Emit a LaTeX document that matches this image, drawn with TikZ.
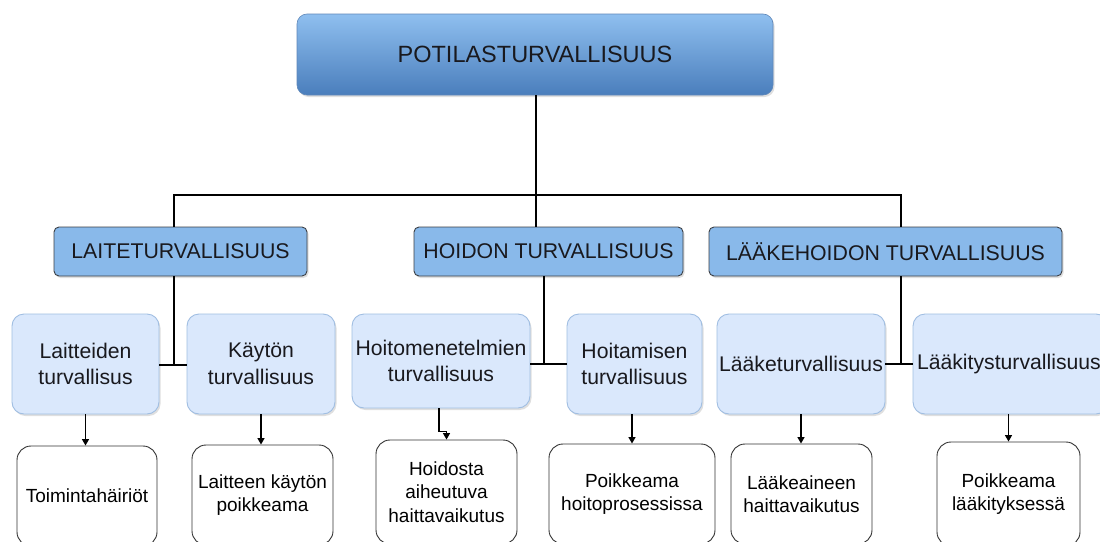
\documentclass[tikz,border=0pt]{standalone}
\usepackage{fontspec}
\setmainfont{Liberation Sans}
\usetikzlibrary{arrows.meta,shadows,calc}
\definecolor{topA}{RGB}{143,191,239}
\definecolor{topB}{RGB}{74,126,188}
\definecolor{topline}{RGB}{95,135,185}
\definecolor{lvtwo}{RGB}{137,185,234}
\definecolor{lvtwoline}{RGB}{60,64,70}
\definecolor{lvthree}{RGB}{218,232,252}
\definecolor{lvthreeline}{RGB}{160,190,226}
\definecolor{txt}{RGB}{25,25,30}
\tikzset{
  shad/.style={drop shadow={opacity=0.25,shadow xshift=1.5pt,shadow yshift=-2pt}},
  topbox/.style={draw=topline,line width=0.6pt,rounded corners=10pt,top color=topA,bottom color=topB,shad,
    minimum width=476pt,minimum height=81pt,inner sep=0pt,font=\fontsize{23.5}{28}\selectfont,text=txt},
  midbox/.style={draw=lvtwoline,line width=0.9pt,rounded corners=5pt,fill=lvtwo,shad,
    minimum height=49pt,inner sep=0pt,font=\fontsize{21.3}{25}\selectfont,text=txt},
  subbox/.style={draw=lvthreeline,line width=0.9pt,rounded corners=12pt,fill=lvthree,shad,
    minimum height=100pt,inner sep=0pt,align=center,font=\fontsize{21.2}{26.5}\selectfont,text=txt},
  leafbox/.style={draw=black!80,line width=0.9pt,rounded corners=14pt,fill=white,
    inner sep=0pt,align=center,font=\fontsize{19}{23.5}\selectfont,text=black},
  conn/.style={draw=black,line width=1.2pt},
  arr/.style={draw=black,line width=1.4pt,-{Triangle[length=6.5pt,width=7pt]}},
}
\begin{document}
\begin{tikzpicture}[x=1pt,y=-1pt]
\useasboundingbox (0,0) rectangle (1100,541);
\clip (0,0) rectangle (1100,541);
\fill[white] (0,0) rectangle (1100,541);
% level 1
\node[topbox] (top) at (535,54.5) {POTILASTURVALLISUUS};
% level 2
\node[midbox,minimum width=253pt] (la) at (180.5,251.5) {LAITETURVALLISUUS};
\node[midbox,minimum width=269pt] (ho) at (548.5,251.5) {HOIDON TURVALLISUUS};
\node[midbox,minimum width=353pt] (lh) at (885.5,251.5) {LÄÄKEHOIDON TURVALLISUUS};
% level 3
\node[subbox,minimum width=147pt] (s1) at (85.5,364) {Laitteiden\\turvallisus};
\node[subbox,minimum width=148pt] (s2) at (261,364) {Käytön\\turvallisuus};
\node[subbox,minimum width=178pt,minimum height=94pt] (s3) at (441,361) {Hoitomenetelmien\\turvallisuus};
\node[subbox,minimum width=135pt] (s4) at (634.5,364) {Hoitamisen\\turvallisuus};
\node[subbox,minimum width=168pt] (s5) at (801,364) {Lääketurvallisuus};
\node[subbox,minimum width=195pt,text width=187pt,align=left] (s6) at (1010.5,364) {Lääkitysturvallisuus};
% level 4
\node[leafbox,minimum width=140pt,minimum height=100pt] (t1) at (87,496) {Toimintahäiriöt};
\node[leafbox,minimum width=141pt,minimum height=100pt] (t2) at (262.5,495) {Laitteen käytön\\poikkeama};
\node[leafbox,minimum width=141pt,minimum height=104pt] (t3) at (446.5,492) {Hoidosta\\aiheutuva\\haittavaikutus};
\node[leafbox,minimum width=166pt,minimum height=100pt] (t4) at (632,494) {Poikkeama\\hoitoprosessissa};
\node[leafbox,minimum width=141pt,minimum height=100pt] (t5) at (801.5,494) {Lääkeaineen\\haittavaikutus};
\node[leafbox,minimum width=143pt,minimum height=104pt] (t6) at (1008.5,494) {Poikkeama\\lääkityksessä};
% junctions
\coordinate (j) at (536,195);
\coordinate (ja) at (174,365);
\coordinate (jb) at (544,364);
\coordinate (jc) at (901,364);
% tree connectors
\draw[conn] (top.south -| j) -- (j);
\draw[conn] (j) -| (la.north -| ja);
\draw[conn] (j) -| (lh.north -| jc);
\draw[conn] (j) -- (ho.north -| j);
% level 2 to level 3
\draw[conn] (la.south -| ja) -- (ja);
\draw[conn] (s1.east |- ja) -- (s2.west |- ja);
\draw[conn] (ho.south -| jb) -- (jb);
\draw[conn] (s3.east |- jb) -- (s4.west |- jb);
\draw[conn] (lh.south -| jc) -- (jc);
\draw[conn] (s5.east |- jc) -- (s6.west |- jc);
% level 3 to level 4
\draw[arr] (s1.south) -- (t1.north -| s1.south);
\draw[arr] (s2.south) -- (t2.north -| s2.south);
\draw[arr] ([xshift=-2pt]s3.south) -- ++(0,23) -| (t3.north);
\draw[arr] (s4.south -| t4.north) -- (t4.north);
\draw[arr] (s5.south) -- (t5.north -| s5.south);
\draw[arr] (s6.south -| t6.north) -- (t6.north);
\end{tikzpicture}
\end{document}
